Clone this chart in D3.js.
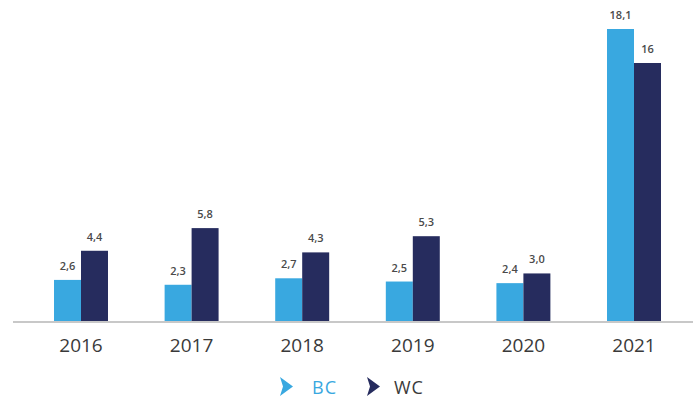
<!DOCTYPE html>
<html>
<head>
<meta charset="utf-8">
<script src="https://cdn.jsdelivr.net/npm/d3@7"></script>
<style>
  html, body { margin: 0; padding: 0; background: #fff; }
  svg { display: block; }
</style>
</head>
<body>
<svg id="chart" width="693" height="403"></svg>
<script>
const years = ["2016", "2017", "2018", "2019", "2020", "2021"];
const seriesNames = ["BC", "WC"];
const bcValues = [2.6, 2.3, 2.7, 2.5, 2.4, 18.1];
const wcValues = [4.4, 5.8, 4.3, 5.3, 3.0, 16];
const bcLabels = ["2,6", "2,3", "2,7", "2,5", "2,4", "18,1"];
const wcLabels = ["4,4", "5,8", "4,3", "5,3", "3,0", "16"];
const colors = { BC: "#39a8e0", WC: "#262c5e" };

(function () {
const svg = d3.select("#chart");
const baseline = 322;
const plotTop = 29;

const x = d3.scaleBand().domain(years).range([25.7, 689.3]).paddingInner(0.512).paddingOuter(0.256);
const xs = d3.scaleBand().domain(seriesNames).range([0, x.bandwidth()]);
const y = d3.scaleLinear().domain([0, 18.1]).range([baseline, plotTop]);

const data = [];
years.forEach((yr, i) => {
  data.push({ year: yr, s: "BC", v: bcValues[i], label: bcLabels[i] });
  data.push({ year: yr, s: "WC", v: wcValues[i], label: wcLabels[i] });
});

svg.append("g").selectAll("rect").data(data).join("rect")
  .attr("x", d => x(d.year) + xs(d.s))
  .attr("y", d => y(d.v))
  .attr("width", xs.bandwidth())
  .attr("height", d => baseline - y(d.v))
  .attr("fill", d => colors[d.s]);

svg.append("g").selectAll("text").data(data).join("text")
  .attr("x", d => x(d.year) + xs(d.s) + xs.bandwidth() / 2)
  .attr("y", d => y(d.v) - 10)
  .attr("text-anchor", "middle")
  .attr("font-family", "Open Sans, sans-serif")
  .attr("font-size", 11)
  .attr("font-weight", 600)
  .attr("fill", "#4a4a4a")
  .text(d => d.label);

const axis = d3.axisBottom(x).tickSize(0).tickPadding(0);
const ag = svg.append("g").attr("transform", `translate(0,${baseline})`).call(axis);
ag.select(".domain").remove();
ag.append("line").attr("x1", 13).attr("x2", 693).attr("y1", 0).attr("y2", 0)
  .attr("stroke", "#c8c8c8").attr("stroke-width", 2);
ag.selectAll(".tick text")
  .attr("y", 30)
  .attr("dy", 0)
  .attr("font-family", "Open Sans, sans-serif")
  .attr("font-size", 19)
  .attr("fill", "#3a3a3a");

const legend = [
  { name: "BC", cx: 280, tx: 312, textColor: "#39a8e0" },
  { name: "WC", cx: 367, tx: 394, textColor: "#3a3a3a" }
];
const lg = svg.append("g");
legend.forEach(l => {
  lg.append("path")
    .attr("d", `M${l.cx},377 L${l.cx + 13},386.5 L${l.cx},396 L${l.cx + 3},386.5 Z`)
    .attr("fill", colors[l.name]);
  lg.append("text")
    .attr("x", l.tx).attr("y", 394)
    .attr("font-family", "Open Sans, sans-serif")
    .attr("font-size", 18)
    .attr("letter-spacing", 1)
    .attr("fill", l.textColor)
    .text(l.name);
});
})();
</script>
</body>
</html>
